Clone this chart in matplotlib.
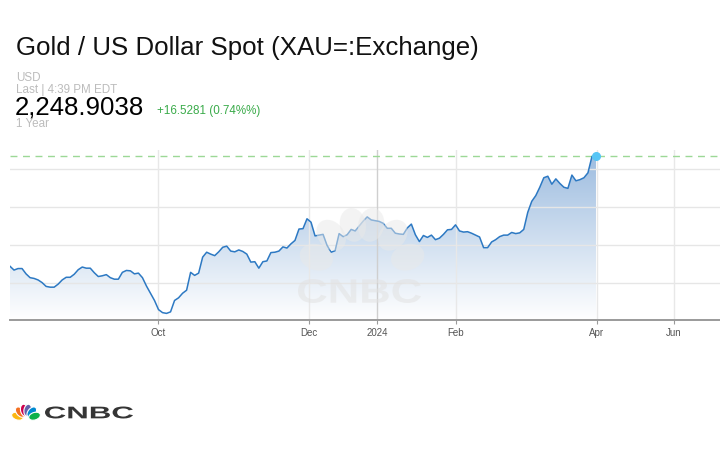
import numpy as np
import matplotlib.pyplot as plt
from matplotlib.patches import Ellipse, PathPatch
from matplotlib.textpath import TextPath
from matplotlib.font_manager import FontProperties
from matplotlib.transforms import Affine2D
from matplotlib.colors import LinearSegmentedColormap

# Gold spot, daily closes (USD)
prices = [1944, 1934, 1938, 1938, 1924, 1914, 1912, 1908, 1901, 1891,
          1889, 1889, 1897, 1908, 1915, 1915, 1923, 1935, 1942, 1939,
          1939, 1927, 1917, 1919, 1922, 1914, 1910, 1910, 1928, 1933,
          1932, 1924, 1926, 1914, 1892, 1873, 1854, 1830, 1822, 1820,
          1824, 1854, 1861, 1873, 1881, 1928, 1920, 1926, 1968, 1981,
          1976, 1972, 1982, 1994, 1997, 1984, 1982, 1987, 1983, 1976,
          1955, 1956, 1939, 1956, 1958, 1980, 1981, 1984, 1995, 1992,
          2003, 2012, 2042, 2043, 2069, 2060, 2024, 2026, 2028, 1999,
          1981, 1985, 2030, 2022, 2027, 2041, 2037, 2050, 2063, 2074,
          2066, 2064, 2062, 2057, 2044, 2044, 2031, 2029, 2028, 2045,
          2055, 2027, 2009, 2025, 2020, 2026, 2014, 2018, 2028, 2040,
          2041, 2053, 2037, 2034, 2035, 2031, 2026, 2021, 1993, 1993,
          2008, 2014, 2022, 2026, 2026, 2033, 2030, 2032, 2041, 2086,
          2115, 2130, 2152, 2177, 2181, 2160, 2174, 2162, 2152, 2149,
          2184, 2169, 2172, 2177, 2190, 2233, 2233]

tick_labels = ["Oct", "Dec", "2024", "Feb", "Apr", "Jun"]
tick_pos = [36.9, 74.5, 91.4, 111.1, 146.2, 165.4]
grid_levels = [1900, 2000, 2100, 2200]

title = "Gold / US Dollar Spot (XAU=:Exchange)"
last_price = "2,248.9038"
change = "+16.5281 (0.74%%)"

Y_MIN, Y_MAX = 1802.6, 2250
X_MAX = 176.9

plt.rcParams["font.family"] = ["Liberation Sans", "DejaVu Sans"]

fig = plt.figure(figsize=(7.2, 4.5), dpi=100)
ax = fig.add_axes([10 / 720, 130 / 450, 710 / 720, 170 / 450])
ax.patch.set_alpha(0)

x = np.arange(len(prices))

# gradient area under the line
area = ax.fill_between(x, prices, Y_MIN, color="none", lw=0)
cmap = LinearSegmentedColormap.from_list("fade", ["#ffffff", "#9ebde0"])
grad = np.linspace(0, 1, 256).reshape(-1, 1)
im = ax.imshow(grad, cmap=cmap, aspect="auto", origin="lower",
               extent=[0, x[-1], Y_MIN, max(prices)], zorder=1,
               interpolation="bicubic")
im.set_clip_path(area.get_paths()[0], transform=ax.transData)

for g in grid_levels:
    ax.axhline(g, color="#e6e6e6", lw=1, zorder=2)
for p, lab in zip(tick_pos, tick_labels):
    ax.axvline(p, color="#cfcfcf" if lab == "2024" else "#e8e8e8", lw=1, zorder=2)

ax.axhline(prices[-1], color="#9cd896", lw=1, ls=(0, (5, 4)), zorder=2.5)
ax.plot(x, prices, color="#2d79c3", lw=1.1, zorder=3)
ax.plot(x[-1], prices[-1], "o", ms=5.5, color="#56c5f5", zorder=4, clip_on=False)

ax.set_xlim(0, X_MAX)
ax.set_ylim(Y_MIN, Y_MAX)
for s in ["top", "left", "right"]:
    ax.spines[s].set_visible(False)
ax.spines["bottom"].set_color("#9a9a9a")
ax.spines["bottom"].set_linewidth(1.4)
ax.set_yticks([])
ax.set_xticks(tick_pos, tick_labels)
ax.tick_params(axis="x", length=3, color="#9a9a9a", labelsize=7, labelcolor="#555555", pad=3)

# overlay in pixel coordinates for header, watermark and logo
ov = fig.add_axes([0, 0, 1, 1])
ov.set_xlim(0, 720)
ov.set_ylim(450, 0)
ov.axis("off")
ov.patch.set_alpha(0)


def word(text, x0, y0, x1, y1, color, alpha=1.0, family="Liberation Sans"):
    tp = TextPath((0, 0), text, size=1, prop=FontProperties(family=family, weight="bold"))
    bb = tp.get_extents()
    tr = Affine2D().translate(-bb.x0, -bb.y0).scale((x1 - x0) / bb.width, -(y1 - y0) / bb.height).translate(x0, y1)
    ov.add_patch(PathPatch(tr.transform_path(tp), color=color, alpha=alpha, lw=0))


def peacock(cx, cy, dist, length, width, colors, alpha=1.0, edge="white"):
    angles = [162, 130, 101, 79, 50, 18]
    for a, c in zip(angles, colors):
        r = np.radians(a)
        ov.add_patch(Ellipse((cx + dist * np.cos(r), cy - dist * np.sin(r)), length, width,
                             angle=-a, facecolor=c, edgecolor=edge, lw=0.8, alpha=alpha))


# faint watermark
peacock(362, 272, 48, 34, 26, ["#e9e9e9"] * 6, alpha=0.5, edge="none")
word("CNBC", 298, 279, 421, 303, "#e2e2e2", alpha=0.55)

# header
ov.text(16, 55, title, fontsize=18.6, color="#111111", va="baseline")
ov.text(16, 81, "USD", fontsize=8.4, color="#bcbcbc", va="baseline")
ov.text(16, 92.7, "Last | 4:39 PM EDT", fontsize=8.4, color="#bcbcbc", va="baseline")
ov.text(15, 114.3, last_price, fontsize=18.6, color="#000000", va="baseline")
ov.text(157, 114.3, change, fontsize=8.4, color="#3aab4a", va="baseline")
ov.text(16, 127, "1 Year", fontsize=8.4, color="#bcbcbc", va="baseline")

# logo
peacock(26, 419, 9, 12, 7.5, ["#fcb711", "#f37021", "#cc004c", "#6460aa", "#0089d0", "#0db14b"])
word("CNBC", 45, 406.5, 133, 418.5, "#353535")

fig.savefig("out.png", dpi=100)
